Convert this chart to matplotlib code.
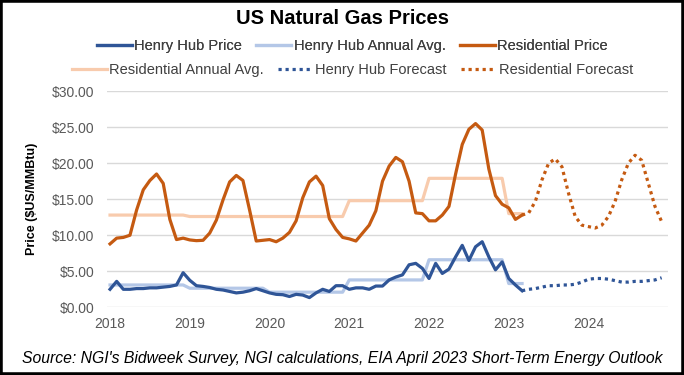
import numpy as np
import matplotlib
matplotlib.use("Agg")
import matplotlib.pyplot as plt
from matplotlib.patches import Rectangle

plt.rcParams["font.family"] = ["Liberation Sans", "DejaVu Sans"]

# ----------------------------------------------------------------------
# Data (monthly, Jan 2018 = month 0)
# ----------------------------------------------------------------------
years = [2018, 2019, 2020, 2021, 2022, 2023, 2024]

# Henry Hub bidweek price, Jan 2018 - Mar 2023
henry_hub = [
    2.5, 3.6, 2.5, 2.5, 2.6, 2.6, 2.7, 2.7, 2.8, 2.9, 3.1, 4.8,   # 2018
    3.75, 3.0, 2.9, 2.75, 2.5, 2.4, 2.2, 2.0, 2.1, 2.3, 2.6, 2.3,  # 2019
    2.0, 1.8, 1.75, 1.5, 1.8, 1.7, 1.35, 2.0, 2.5, 2.2, 3.0, 3.0,  # 2020
    2.5, 2.7, 2.7, 2.5, 2.95, 2.95, 3.8, 4.2, 4.5, 5.9, 6.1, 5.4,  # 2021
    4.0, 6.1, 4.7, 5.3, 7.0, 8.6, 6.5, 8.4, 9.1, 7.0, 5.2, 6.3,    # 2022
    4.0, 3.1, 2.3,                                                  # 2023
]

# Residential price, Jan 2018 - Mar 2023
residential = [
    8.8, 9.6, 9.7, 10.0, 13.5, 16.3, 17.6, 18.5, 17.2, 12.2, 9.4, 9.6,    # 2018
    9.35, 9.25, 9.3, 10.3, 12.1, 14.9, 17.4, 18.3, 17.6, 13.5, 9.2, 9.3,  # 2019
    9.4, 9.1, 9.6, 10.4, 12.0, 15.2, 17.4, 18.2, 16.9, 12.3, 10.8, 9.7,   # 2020
    9.5, 9.2, 10.3, 11.4, 13.4, 17.5, 19.6, 20.8, 20.2, 17.5, 13.1, 13.0, # 2021
    12.0, 12.0, 12.8, 14.0, 18.5, 22.6, 24.7, 25.5, 24.6, 19.2, 15.5, 14.3,  # 2022
    13.8, 12.2, 12.8,                                                     # 2023
]

# Annual averages (one value per year, drawn across that year's months)
hh_annual_avg = [3.1, 2.65, 2.1, 3.8, 6.6, 3.3]
res_annual_avg = [12.8, 12.6, 12.6, 14.8, 17.9, 13.0]
months_in_year = [12, 12, 12, 12, 12, 3]

# EIA STEO forecast, Mar 2023 - Dec 2024
hh_forecast = [
    2.3, 2.5, 2.6, 2.8, 3.0, 3.0, 3.1, 3.1, 3.2, 3.5,   # 2023 (Mar-Dec)
    3.9, 4.0, 4.0, 3.9, 3.7, 3.5, 3.5, 3.6, 3.6, 3.7, 3.8, 4.1,  # 2024
]
res_forecast = [
    12.8, 13.1, 14.7, 17.7, 20.0, 20.6, 19.5, 15.8, 12.6, 11.4,   # 2023 (Mar-Dec)
    11.2, 11.0, 11.4, 12.6, 14.7, 17.7, 20.0, 21.1, 20.4, 17.2, 14.0, 11.9,  # 2024
]

# ----------------------------------------------------------------------
COL_HH = "#2F5597"
COL_HH_AVG = "#B4C7E7"
COL_RES = "#C55A11"
COL_RES_AVG = "#F8CBAD"
LW = 2.3

x_act = np.arange(len(henry_hub))
x_fc = np.arange(len(henry_hub) - 1, len(henry_hub) - 1 + len(hh_forecast))
hh_avg_monthly = np.repeat(hh_annual_avg, months_in_year)
res_avg_monthly = np.repeat(res_annual_avg, months_in_year)
x_avg = np.arange(len(hh_avg_monthly))

fig = plt.figure(figsize=(6.84, 3.75), dpi=100)
ax = fig.add_axes([0.156, 0.1805, 0.821, 0.5765])

l_hh, = ax.plot(x_act, henry_hub, color=COL_HH, lw=LW, label="Henry Hub Price")
l_hha, = ax.plot(x_avg, hh_avg_monthly, color=COL_HH_AVG, lw=LW,
                 label="Henry Hub Annual Avg.")
l_res, = ax.plot(np.arange(len(residential)), residential, color=COL_RES, lw=LW,
                 label="Residential Price")
l_resa, = ax.plot(x_avg, res_avg_monthly, color=COL_RES_AVG, lw=LW,
                  label="Residential Annual Avg.")
l_hhf, = ax.plot(x_fc, hh_forecast, color=COL_HH, lw=LW, linestyle=(0, (1, 1.2)),
                 label="Henry Hub Forecast")
l_resf, = ax.plot(x_fc, res_forecast, color=COL_RES, lw=LW, linestyle=(0, (1, 1.2)),
                  label="Residential Forecast")

# draw order: averages behind prices
for ln in (l_hha, l_resa):
    ln.set_zorder(2)
for ln in (l_hh, l_res, l_hhf, l_resf):
    ln.set_zorder(3)

ax.set_xlim(-0.5, 84)
ax.set_ylim(0, 30)
ax.set_yticks(np.arange(0, 31, 5))
ax.set_yticklabels([f"${v:.2f}" for v in np.arange(0, 31, 5)])
ax.set_xticks([12 * i for i in range(len(years))])
ax.set_xticklabels([str(y) for y in years])
ax.tick_params(axis="both", length=0, labelsize=10, labelcolor="#595959")
ax.tick_params(axis="y", pad=9)
ax.tick_params(axis="x", pad=7)
ax.grid(axis="y", color="#D9D9D9", lw=1)
ax.set_axisbelow(True)
for s in ax.spines.values():
    s.set_visible(False)

ax.set_ylabel("Price ($US/MMBtu)", fontsize=9, fontweight="bold", labelpad=10)

fig.text(0.5, 0.952, "US Natural Gas Prices", ha="center", va="center",
         fontsize=14.5, fontweight="bold")

leg_kw = dict(loc="center", ncol=3, frameon=False, fontsize=10.5,
              handlelength=2.4, handletextpad=0.15, columnspacing=1.0,
              labelcolor="#404040")
leg1 = fig.legend(handles=[l_hh, l_hha, l_res], bbox_to_anchor=(0.515, 0.877), **leg_kw)
fig.add_artist(leg1)
fig.legend(handles=[l_resa, l_hhf, l_resf], bbox_to_anchor=(0.515, 0.813), **leg_kw)

fig.text(0.5, 0.045,
         "Source: NGI's Bidweek Survey, NGI calculations, EIA April 2023 Short-Term Energy Outlook",
         ha="center", va="center", fontsize=11.3, style="italic")

fig.patches.append(Rectangle((0, 0), 1, 1, transform=fig.transFigure, fill=False,
                             edgecolor="black", lw=4, zorder=10))

fig.savefig("out.png", dpi=100)
